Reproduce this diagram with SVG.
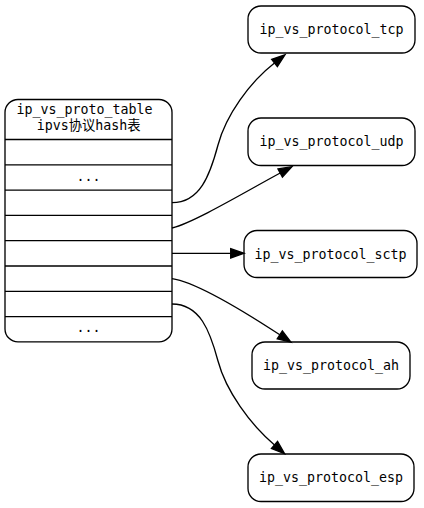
<svg xmlns="http://www.w3.org/2000/svg" width="424" height="508" viewBox="0 0 424 508">
<style>
.box{fill:#fff;stroke:#000;stroke-width:1.33}
.sep{stroke:#000;stroke-width:1.33}
.t{font-family:"DejaVu Sans Mono","Liberation Mono","Noto Sans CJK SC",monospace;font-size:13.3px;fill:#000}
.m{text-anchor:middle}
.e{fill:none;stroke:#000;stroke-width:1.33;marker-end:url(#arr)}
</style>
<defs>
<marker id="arr" markerUnits="userSpaceOnUse" markerWidth="16" markerHeight="12" refX="0" refY="0" viewBox="0 -6 16 12" orient="auto" overflow="visible">
<path d="M0,-4.67 L13.3,0 L0,4.67 Z" fill="#000" stroke="#000" stroke-width="1.33"/>
</marker>
</defs>
<rect width="424" height="508" fill="#fff"/>
<g id="ip_vs_proto_table">
<rect class="box" x="5" y="99.5" width="167" height="242.4" rx="13"/>
<line class="sep" x1="5" y1="139.5" x2="172" y2="139.5"/>
<line class="sep" x1="5" y1="164.8" x2="172" y2="164.8"/>
<line class="sep" x1="5" y1="190.1" x2="172" y2="190.1"/>
<line class="sep" x1="5" y1="215.4" x2="172" y2="215.4"/>
<line class="sep" x1="5" y1="240.7" x2="172" y2="240.7"/>
<line class="sep" x1="5" y1="266" x2="172" y2="266"/>
<line class="sep" x1="5" y1="291.3" x2="172" y2="291.3"/>
<line class="sep" x1="5" y1="316.6" x2="172" y2="316.6"/>
<text class="t" x="16.5" y="114.3">ip_vs_proto_table</text>
<text class="t m" x="88.7" y="129.8">ipvs协议hash表</text>
<text class="t m" x="88.5" y="181">...</text>
<text class="t m" x="88.5" y="331.5">...</text>
</g>
<g id="ip_vs_protocol_tcp">
<rect class="box" x="248" y="6" width="167" height="47" rx="13"/>
<text class="t m" x="331.5" y="34">ip_vs_protocol_tcp</text>
</g>
<g id="ip_vs_protocol_udp">
<rect class="box" x="248" y="118" width="167" height="47.5" rx="13"/>
<text class="t m" x="331.5" y="146">ip_vs_protocol_udp</text>
</g>
<g id="ip_vs_protocol_sctp">
<rect class="box" x="244" y="230.5" width="173" height="47" rx="13"/>
<text class="t m" x="330.5" y="258.5">ip_vs_protocol_sctp</text>
</g>
<g id="ip_vs_protocol_ah">
<rect class="box" x="252" y="342" width="158" height="47" rx="13"/>
<text class="t m" x="331" y="370">ip_vs_protocol_ah</text>
</g>
<g id="ip_vs_protocol_esp">
<rect class="box" x="248" y="454" width="166" height="47.5" rx="13"/>
<text class="t m" x="331" y="482">ip_vs_protocol_esp</text>
</g>
<g id="edges">
<path class="e" d="M172,202.7 C200,202.7 210,175 218,145 C226,115 250,82 274.5,63"/>
<path class="e" d="M172,228 C195,222 245,192 280.2,173"/>
<path class="e" d="M172,253.3 L230.7,253.3"/>
<path class="e" d="M172,278.6 C195,282 245,312 279.8,334.8"/>
<path class="e" d="M172,304 C200,304 210,331 218,361 C226,391 250,424 274.5,445"/>
</g>
</svg>
